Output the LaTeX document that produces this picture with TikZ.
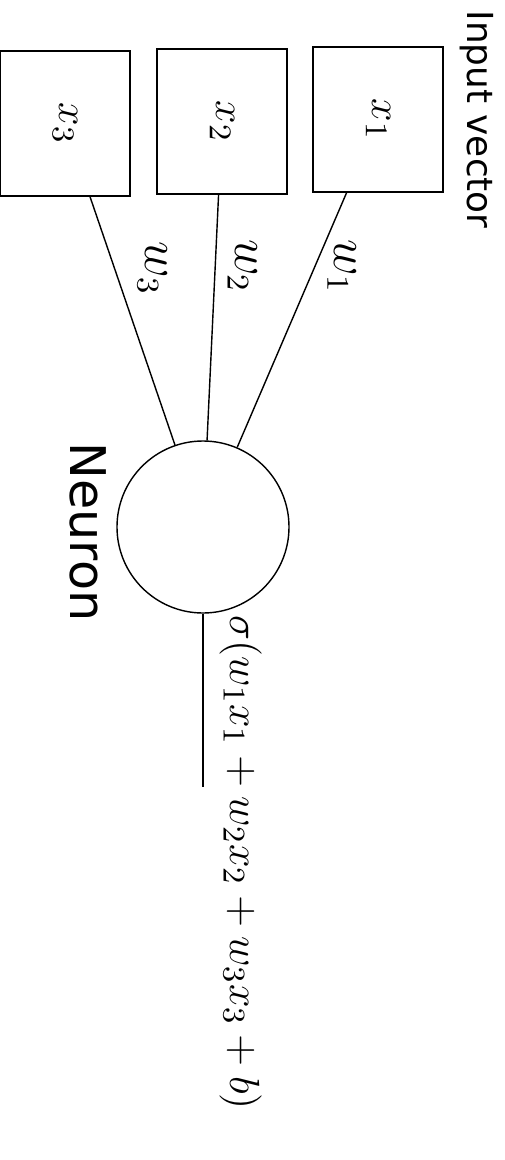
\documentclass[tikz,border=0pt]{standalone}
\usepackage{fontspec}
\setsansfont{DejaVu Sans}
\usetikzlibrary{positioning}

\begin{document}
\begin{tikzpicture}[rotate=-90, transform shape,
    inbox/.style={draw, minimum width=1.45cm, minimum height=1.3cm, font=\fontsize{12.8}{15}\selectfont},
    wlabel/.style={pos=0.29, above, font=\fontsize{13.5}{16}\selectfont}]
  \useasboundingbox (0,0) rectangle (11.6,5.04);
  \node[inbox] (x1) at (1.195,3.78) {$x_1$};
  \node[inbox] (x2) at (1.215,2.22) {$x_2$};
  \node[inbox] (x3) at (1.235,0.65) {$x_3$};
  \node[above=1pt of x1, font=\sffamily\fontsize{10.2}{12}\selectfont] (invec) {Input vector};
  \node[draw, circle, minimum size=1.72cm] (neuron) at (5.27,2.03) {};
  \node[font=\sffamily\fontsize{14}{17}\selectfont] (neulabel) at (5.32,0.88) {Neuron};
  \coordinate (out) at (7.87,2.03);
  \draw (x1) -- node[wlabel] {$w_1$} (neuron);
  \draw (x2) -- node[wlabel] {$w_2$} (neuron);
  \draw (x3) -- node[wlabel, yshift=3pt] {$w_3$} (neuron);
  \draw (neuron) -- (out);
  \node[anchor=base west, inner sep=0pt, font=\fontsize{12.2}{15}\selectfont] (sum) at (6.15,2.3) {$\sigma(w_1x_1 + w_2x_2 + w_3x_3 + b)$};
\end{tikzpicture}
\end{document}
